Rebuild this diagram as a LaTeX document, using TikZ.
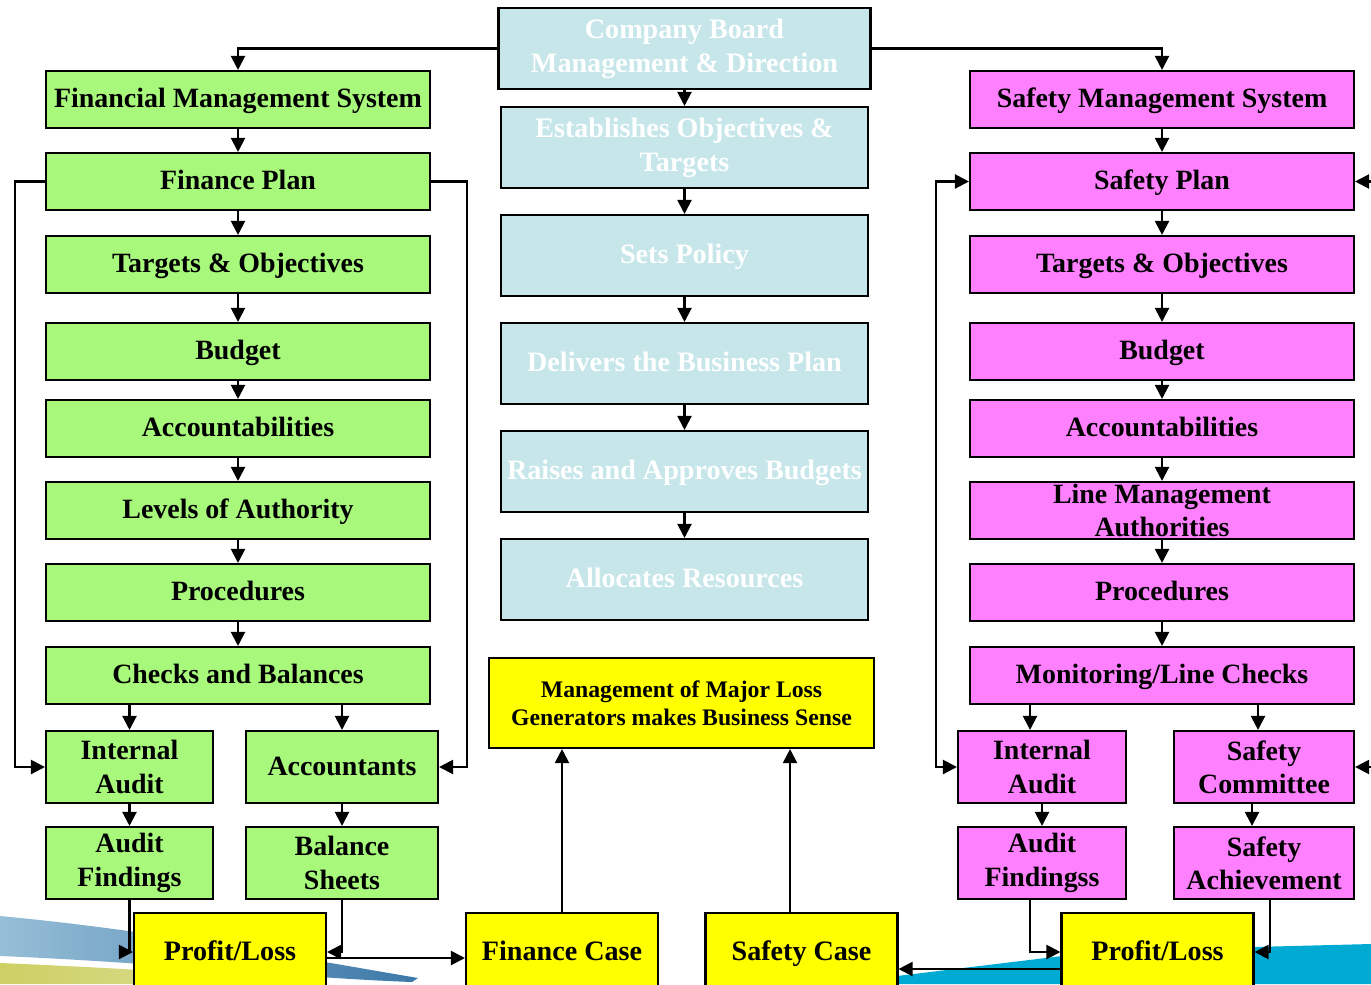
\documentclass[tikz,border=0pt]{standalone}
\usepackage{fontspec}
\setmainfont{Liberation Serif}
\usetikzlibrary{arrows.meta}
\definecolor{fingreen}{RGB}{168,248,124}
\definecolor{safpink}{RGB}{255,128,255}
\definecolor{boardblue}{RGB}{198,230,234}
\definecolor{caseyellow}{RGB}{255,255,0}
\definecolor{swooshcyan}{RGB}{0,170,210}
\definecolor{swooshlight}{RGB}{150,190,215}
\definecolor{swooshdark}{RGB}{60,120,168}
\definecolor{swoosholive}{RGB}{205,208,100}
\tikzset{
	cell/.style={draw,line width=1.2pt,align=center,inner sep=1pt,font=\fontsize{15.9}{19}\selectfont\bfseries},
	one/.style={text height=0.95em,text depth=0pt},
	fin/.style={cell,one,fill=fingreen,minimum width=7.68cm,minimum height=1.14cm},
	saf/.style={cell,one,fill=safpink,minimum width=7.68cm,minimum height=1.14cm},
	board/.style={cell,fill=boardblue,text=white,minimum width=7.34cm,minimum height=1.62cm,font=\fontsize{16}{19.3}\selectfont\bfseries},
	subfin/.style={cell,fill=fingreen,minimum height=1.44cm},
	subsaf/.style={cell,fill=safpink,minimum height=1.44cm},
	case/.style={cell,fill=caseyellow,minimum width=3.84cm,minimum height=1.56cm,font=\fontsize{16}{19}\selectfont\bfseries},
	arr/.style={line width=1.2pt,-{Triangle[length=8pt,width=8pt]}},
	arrs/.style={line width=1.2pt,{Triangle[length=8pt,width=8pt]}-{Triangle[length=8pt,width=8pt]}}
}
\begin{document}
\begin{tikzpicture}[x=0.02cm,y=-0.02cm]
	\useasboundingbox(0,0)rectangle(1371,984);
	\shade[left color=swooshlight,right color=swooshdark](0,916).. controls (150,930) and (300,958) .. (418,978)--(412,982).. controls (300,978) and (150,962) .. (0,956)--cycle;
	\shade[left color=swoosholive,right color=swoosholive!60!white](0,963).. controls (120,968) and (250,976) .. (330,984)--(0,984)--cycle;
	\fill[swooshcyan](897,976)--(1062,956)--(1253,947)--(1371,944)--(1371,984)--(897,984)--cycle;
	\node[board,minimum width=7.44cm](cb)at(684.5,48.5){Company Board\\Management \& Direction};
	\node[board](eo)at(684.5,147.5){Establishes Objectives \&\\Targets};
	\node[board,one](sp)at(684.5,255.5){Sets Policy};
	\node[board,one](dbp)at(684.5,363.5){Delivers the Business Plan};
	\node[board,one](rab)at(684.5,471.5){Raises and Approves Budgets};
	\node[board,one](ar)at(684.5,579.5){Allocates Resources};
	\node[case,minimum width=7.7cm,minimum height=1.8cm,font=\fontsize{13.5}{16}\selectfont\bfseries](mlg)at(681.5,703){Management of Major Loss\\Generators makes Business Sense};
	\node[fin](fms)at(238,99.5){Financial Management System};
	\node[fin](fp)at(238,181.5){Finance Plan};
	\node[fin](fto)at(238,264.5){Targets \& Objectives};
	\node[fin](fbud)at(238,351.5){Budget};
	\node[fin](facc)at(238,428.5){Accountabilities};
	\node[fin](loa)at(238,510.5){Levels of Authority};
	\node[fin](cab)at(238,592.5){Procedures};
	\node[fin](chk)at(238,675.5){Checks and Balances};
	\node[subfin,minimum width=3.34cm](fia)at(129.5,767){Internal\\Audit};
	\node[subfin,one,minimum width=3.84cm](acct)at(342,767){Accountants};
	\node[subfin,minimum width=3.34cm](faf)at(129.5,863){Audit\\Findings};
	\node[subfin,minimum width=3.84cm](bs)at(342,863){Balance\\Sheets};
	\node[case,one](fpl)at(230,952){Profit/Loss};
	\node[case,one](fcase)at(562,952){Finance Case};
	\node[case,one](scase)at(801.5,952){Safety Case};
	\node[case,one](spl)at(1157.5,952){Profit/Loss};
	\node[saf](sms)at(1162,99.5){Safety Management System};
	\node[saf](splan)at(1162,181.5){Safety Plan};
	\node[saf](sto)at(1162,264.5){Targets \& Objectives};
	\node[saf](sbud)at(1162,351.5){Budget};
	\node[saf](sacc)at(1162,428.5){Accountabilities};
	\node[cell,fill=safpink,minimum width=7.68cm,minimum height=1.14cm](lma)at(1162,510.5){Line Management\\Authorities};
	\node[saf](sproc)at(1162,592.5){Procedures};
	\node[saf](mon)at(1162,675.5){Monitoring/Line Checks};
	\node[subsaf,minimum width=3.36cm](sia)at(1042,767){Internal\\Audit};
	\node[subsaf,minimum width=3.6cm](scom)at(1264,767){Safety\\Committee};
	\node[subsaf,minimum width=3.36cm](saf)at(1042,863){Audit\\Findingss};
	\node[subsaf,minimum width=3.6cm](sach)at(1264,863){Safety\\Achievement};
	\coordinate(rim)at(1373,0);
	\draw[arr](cb.west)-|(fms.north);
	\draw[arr](cb.east)-|(sms.north);
	\draw[arr](cb)--(eo);
	\draw[arr](eo)--(sp);
	\draw[arr](sp)--(dbp);
	\draw[arr](dbp)--(rab);
	\draw[arr](rab)--(ar);
	\draw[arr](fms)--(fp);
	\draw[arr](fp)--(fto);
	\draw[arr](fto)--(fbud);
	\draw[arr](fbud)--(facc);
	\draw[arr](facc)--(loa);
	\draw[arr](loa)--(cab);
	\draw[arr](cab)--(chk);
	\draw[arr](chk.south-|fia.north)--(fia.north);
	\draw[arr](chk.south-|acct.north)--(acct.north);
	\draw[arr](fia)--(faf);
	\draw[arr](acct)--(bs);
	\draw[arr](fp.west)--++(-30,0)|-(fia.west);
	\draw[arr](fp.east)--++(36,0)|-(acct.east);
	\draw[arr](faf.south)|-(fpl.west);
	\draw[arr](bs.south)|-(fpl.east);
	\draw[arr]([yshift=-0.12cm]fpl.east)--([yshift=-0.12cm]fcase.west);
	\draw[arr](fcase.north)--(fcase.north|-mlg.south);
	\draw[arr]([xshift=-0.23cm]scase.north)--([xshift=-0.23cm]scase.north|-mlg.south);
	\draw[arr]([yshift=-0.34cm]spl.west)--([yshift=-0.34cm]scase.east);
	\draw[arr](sms)--(splan);
	\draw[arr](splan)--(sto);
	\draw[arr](sto)--(sbud);
	\draw[arr](sbud)--(sacc);
	\draw[arr](sacc)--(lma);
	\draw[arr](lma)--(sproc);
	\draw[arr](sproc)--(mon);
	\draw[arr]([xshift=-0.24cm]mon.south-|sia.north)--([xshift=-0.24cm]sia.north);
	\draw[arr]([xshift=-0.12cm]mon.south-|scom.north)--([xshift=-0.12cm]scom.north);
	\draw[arr](sia)--(saf);
	\draw[arr]([xshift=-0.24cm]scom.south)--([xshift=-0.24cm]sach.north);
	\draw[arrs](sia.west)--++(-21,0)|-(splan.west);
	\draw[arr](rim|-splan.east)--(splan.east);
	\draw[arr](rim|-scom.east)--(scom.east);
	\draw[arr]([xshift=-0.24cm]saf.south)|-(spl.west);
	\draw[arr]([xshift=0.12cm]sach.south)|-(spl.east);
\end{tikzpicture}
\end{document}
